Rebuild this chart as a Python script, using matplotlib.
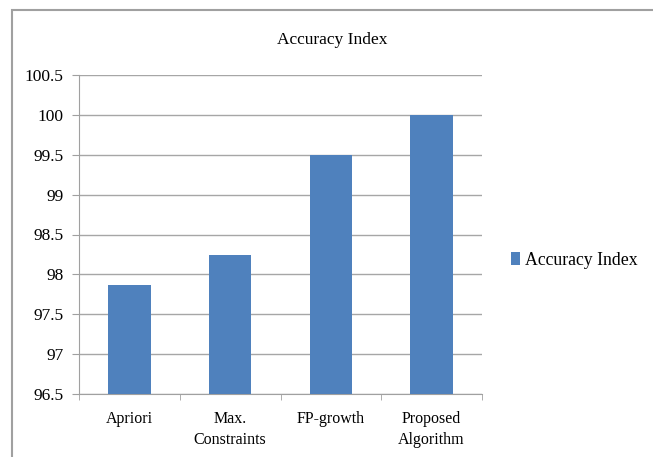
import matplotlib
matplotlib.use("Agg")
import matplotlib.pyplot as plt
from matplotlib.patches import Rectangle

# Dane
categories = ["Apriori", "Max.\nConstraints", "FP-growth", "Proposed\nAlgorithm"]
accuracy = [97.87, 98.24, 99.5, 100.0]
yticks = [96.5, 97, 97.5, 98, 98.5, 99, 99.5, 100, 100.5]
ytick_labels = ["96.5", "97", "97.5", "98", "98.5", "99", "99.5", "100", "100.5"]

plt.rcParams["font.family"] = ["Liberation Serif", "DejaVu Serif"]

fig = plt.figure(figsize=(6.53, 4.57), dpi=100)
ax = fig.add_axes([79 / 653, 1 - 394 / 457, 403 / 653, 319 / 457])

# ramka wokół całego wykresu
fig.patches.append(Rectangle((12 / 653, -0.1), 1.2, 1.1 - 10 / 457,
                             transform=fig.transFigure, fill=False,
                             edgecolor="#a0a0a0", linewidth=1.5))

x = range(len(categories))
ax.bar(x, accuracy, width=0.42, color="#4f81bd", label="Accuracy Index", zorder=3)

ax.set_xlim(-0.5, len(categories) - 0.5)
ax.set_ylim(96.5, 100.5)
ax.set_yticks(yticks)
ax.set_yticklabels(ytick_labels, fontsize=12.5)
ax.set_xticks(list(x))
ax.set_xticklabels(categories, fontsize=11.5, linespacing=1.45)
ax.tick_params(axis="x", length=0, pad=12)
ax.tick_params(axis="y", length=5, color="#a0a0a0", pad=6)

# małe znaczniki na granicach kategorii
ax.set_xticks([-0.5, 0.5, 1.5, 2.5, 3.5], minor=True)
ax.tick_params(axis="x", which="minor", length=4, color="#a0a0a0")

ax.grid(axis="y", color="#a6a6a6", linewidth=1.0, zorder=0)
for side in ["top", "right"]:
    ax.spines[side].set_visible(False)
ax.spines["left"].set_color("#a0a0a0")
ax.spines["bottom"].set_color("#a0a0a0")

fig.text(332 / 653, 1 - 40 / 457, "Accuracy Index", ha="center", va="center", fontsize=12.5)

ax.legend(loc="center left", bbox_to_anchor=(1.033, 0.42), frameon=False,
          fontsize=12.8, handlelength=0.5, handleheight=0.7, handletextpad=0.25)

plt.savefig("out.png", dpi=100)
plt.close()
